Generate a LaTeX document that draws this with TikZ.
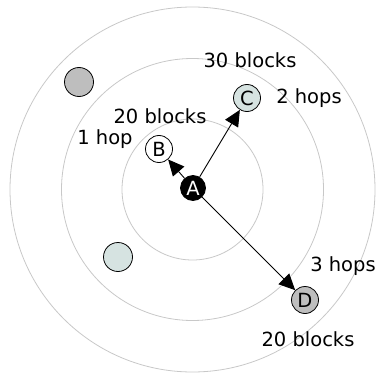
\documentclass[tikz,border=0pt]{standalone}
\usepackage{fontspec}
\setmainfont{DejaVu Sans}
\usetikzlibrary{arrows.meta}
\definecolor{ringc}{RGB}{200,200,200}
\definecolor{grayfill}{RGB}{190,190,190}
\definecolor{lightfill}{RGB}{214,227,225}
\begin{document}
\begin{tikzpicture}[x=1pt,y=-1pt,
  ring/.style={draw=ringc,line width=0.8pt},
  peer/.style={circle,draw=black,line width=0.8pt,minimum size=27pt,inner sep=0pt,font=\fontsize{19.5}{21}\selectfont},
  lbl/.style={font=\fontsize{19.5}{21}\selectfont,inner sep=0pt},
  arr/.style={-{Triangle[length=16pt,width=15pt]},line width=0.9pt,shorten >=0pt}]
\useasboundingbox (0,0) rectangle (376,377);
\coordinate (O) at (192.5,189.5);
\draw[ring] (O) circle (70.5);
\draw[ring] (O) circle (131);
\draw[ring] (O) circle (182.5);
\node[peer,fill=black,text=white,minimum size=25pt] (A) at (193,188) {A};
\node[peer,fill=white] (B) at (159,149) {B};
\node[peer,fill=lightfill] (C) at (247,98) {C};
\node[peer,fill=grayfill] (D) at (305,300) {D};
\node[peer,fill=grayfill,minimum size=29pt] (E) at (79,82) {};
\node[peer,fill=lightfill,minimum size=29pt] (F) at (118,257) {};
\draw[arr] (A) -- (B);
\draw[arr] (A) -- (C);
\draw[arr] (A) -- (D);
\node[lbl] (l30) at (250,60) {30 blocks};
\node[lbl] (l2h) at (309,98) {2 hops};
\node[lbl] (l20a) at (160,116) {20 blocks};
\node[lbl] (l1h) at (105,139) {1 hop};
\node[lbl] (l3h) at (343,266) {3 hops};
\node[lbl] (l20b) at (308,339) {20 blocks};
\end{tikzpicture}
\end{document}
